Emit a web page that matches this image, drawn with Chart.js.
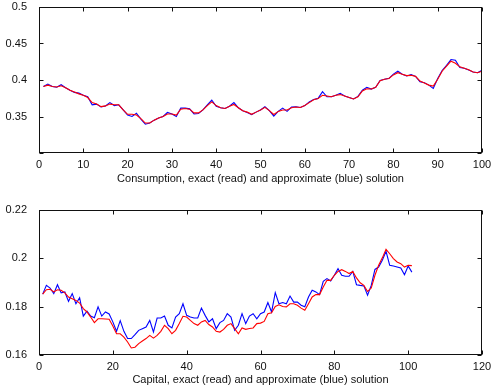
<!DOCTYPE html>
<html>
<head>
<meta charset="utf-8">
<script src="https://cdn.jsdelivr.net/npm/chart.js@4/dist/chart.umd.min.js"></script>
<style>
  html, body { margin: 0; padding: 0; background: #fff; }
  #wrap { position: relative; width: 491px; height: 392px; overflow: hidden; }
  canvas { position: absolute; left: 0; }
</style>
</head>
<body>
<div id="wrap">
  <canvas id="cons" width="491" height="195" style="top:0"></canvas>
  <canvas id="cap" width="491" height="197" style="top:195px"></canvas>
</div>
<script>
// Consumption and capital paths, periods 1..101 — exact (red) vs approximate (blue).

const consExact = [
  0.391, 0.393, 0.391, 0.3905, 0.392, 0.3895, 0.386, 0.3835, 0.381, 0.379,
  0.376, 0.369, 0.367, 0.3635, 0.3645, 0.367, 0.366, 0.366, 0.359, 0.353,
  0.353, 0.352, 0.347, 0.341, 0.341, 0.345, 0.348, 0.350, 0.3535, 0.3535,
  0.352, 0.360, 0.361, 0.360, 0.355, 0.355, 0.359, 0.365, 0.370, 0.365,
  0.362, 0.361, 0.364, 0.3665, 0.362, 0.358, 0.356, 0.353, 0.356, 0.359,
  0.3625, 0.358, 0.3527, 0.357, 0.359, 0.359, 0.362, 0.363, 0.3624, 0.365,
  0.369, 0.373, 0.3745, 0.379, 0.378, 0.377, 0.379, 0.380, 0.378, 0.376,
  0.374, 0.377, 0.385, 0.388, 0.3876, 0.390, 0.399, 0.401, 0.402, 0.407,
  0.410, 0.408, 0.406, 0.4064, 0.405, 0.3985, 0.396, 0.393, 0.3917, 0.401,
  0.412, 0.419, 0.4257, 0.423, 0.418, 0.416, 0.414, 0.411, 0.410, 0.412,
  0.413,
];
const consApprox = [
  0.391, 0.3945, 0.391, 0.390, 0.3935, 0.3895, 0.386, 0.383, 0.382, 0.379,
  0.377, 0.366, 0.367, 0.363, 0.3645, 0.369, 0.365, 0.366, 0.359, 0.352,
  0.350, 0.3545, 0.3465, 0.3395, 0.341, 0.345, 0.348, 0.350, 0.3555, 0.3535,
  0.350, 0.3615, 0.3615, 0.3605, 0.3535, 0.354, 0.359, 0.366, 0.3725, 0.364,
  0.362, 0.361, 0.364, 0.369, 0.362, 0.358, 0.3555, 0.3527, 0.356, 0.359,
  0.3633, 0.358, 0.3505, 0.357, 0.3615, 0.357, 0.3628, 0.3633, 0.3624, 0.365,
  0.370, 0.3734, 0.3748, 0.384, 0.377, 0.377, 0.379, 0.3817, 0.378, 0.376,
  0.374, 0.3775, 0.386, 0.390, 0.3876, 0.390, 0.3995, 0.401, 0.4023, 0.408,
  0.412, 0.408, 0.4055, 0.4073, 0.405, 0.3977, 0.3963, 0.393, 0.3885, 0.402,
  0.413, 0.420, 0.428, 0.427, 0.417, 0.4161, 0.4138, 0.411, 0.410, 0.4133,
  0.413,
];

const capExact = [
  0.1852, 0.187, 0.1872, 0.1861, 0.187, 0.1868, 0.1857, 0.184, 0.1833, 0.1826,
  0.1815, 0.1792, 0.1778, 0.1757, 0.1734, 0.175, 0.175, 0.1749, 0.1748, 0.172,
  0.1688, 0.1688, 0.1674, 0.1654, 0.1629, 0.1632, 0.1647, 0.1658, 0.1668, 0.1681,
  0.167, 0.1681, 0.1698, 0.1723, 0.1709, 0.1688, 0.1702, 0.173, 0.176, 0.1757,
  0.1743, 0.173, 0.1723, 0.1737, 0.1743, 0.1726, 0.1716, 0.1698, 0.1695, 0.1706,
  0.1723, 0.173, 0.1709, 0.1688, 0.1712, 0.1706, 0.171, 0.1712, 0.173, 0.1732,
  0.1739, 0.1771, 0.1775, 0.1801, 0.1808, 0.1801, 0.1799, 0.1812, 0.1812, 0.1806,
  0.1794, 0.1785, 0.1812, 0.184, 0.185, 0.185, 0.1881, 0.1909, 0.1909, 0.193,
  0.1946, 0.1953, 0.1946, 0.1937, 0.1946, 0.1919, 0.1899, 0.1888, 0.1863, 0.1877,
  0.193, 0.1971, 0.2002, 0.2037, 0.2019, 0.1999, 0.1985, 0.1978, 0.1964, 0.1971,
  0.197,
];
const capApprox = [
  0.1852, 0.1888, 0.1877, 0.1854, 0.1891, 0.1857, 0.1861, 0.1822, 0.1854, 0.1812,
  0.1837, 0.1761, 0.1781, 0.1761, 0.1754, 0.1799, 0.1761, 0.1778, 0.177, 0.1737,
  0.1698, 0.1742, 0.1698, 0.1668, 0.1668, 0.1684, 0.1702, 0.1709, 0.1716, 0.1743,
  0.1695, 0.1753, 0.1753, 0.1761, 0.1723, 0.1712, 0.1757, 0.1771, 0.1812, 0.1764,
  0.1757, 0.1753, 0.1753, 0.1794, 0.1764, 0.1737, 0.175, 0.1709, 0.1734, 0.1743,
  0.1771, 0.1757, 0.1702, 0.1723, 0.1771, 0.173, 0.1761, 0.1771, 0.175, 0.1771,
  0.1778, 0.1817, 0.1778, 0.1858, 0.1812, 0.1817, 0.1812, 0.1844, 0.1819, 0.1819,
  0.1806, 0.18, 0.184, 0.1868, 0.1861, 0.185, 0.1905, 0.1916, 0.1906, 0.193,
  0.1957, 0.193, 0.1926, 0.1926, 0.1946, 0.1891, 0.1888, 0.1886, 0.1847, 0.1888,
  0.1954, 0.1964, 0.1992, 0.2029, 0.1971, 0.1968, 0.1964, 0.196, 0.1932, 0.1968,
  0.1943,
];

const FONT = 'Liberation Sans, Arial, Helvetica, sans-serif';
const TICK = 4;

// MATLAB-style box: frame on all four sides, tick marks pointing inward.
const matlabBox = {
  id: 'matlabBox',
  afterDraw(chart) {
    const { ctx, chartArea: a, scales: { x, y } } = chart;
    const L = Math.round(a.left) + 0.5;
    const R = Math.round(a.right) - 0.5;
    const T = Math.round(a.top) + 0.5;
    const B = Math.round(a.bottom) - 0.5;
    ctx.save();
    ctx.strokeStyle = '#111';
    ctx.lineWidth = 1;
    ctx.strokeRect(L, T, R - L, B - T);
    ctx.beginPath();
    for (const t of x.ticks) {
      const px = Math.round(x.getPixelForValue(t.value)) + 0.5;
      ctx.moveTo(px, B); ctx.lineTo(px, B - TICK);
      ctx.moveTo(px, T); ctx.lineTo(px, T + TICK);
    }
    for (const t of y.ticks) {
      const py = Math.round(y.getPixelForValue(t.value)) + 0.5;
      ctx.moveTo(L, py); ctx.lineTo(L + TICK, py);
      ctx.moveTo(R, py); ctx.lineTo(R - TICK, py);
    }
    ctx.stroke();
    ctx.restore();
  },
};

const toPoints = (vals) => vals.map((v, i) => ({ x: i + 1, y: v }));
const fmt = (v) => String(+v.toFixed(3));

function panel(canvas, { exact, approx, xMax, xStep, yMin, yMax, yStep, hideYLabel, title, padTop, xHeight, titlePad }) {
  return new Chart(canvas, {
    type: 'line',
    data: {
      datasets: [
        { data: toPoints(exact), borderColor: '#ff0000', borderWidth: 1.1, pointRadius: 0, tension: 0 },
        { data: toPoints(approx), borderColor: '#0000ff', borderWidth: 1.1, pointRadius: 0, tension: 0 },
      ],
    },
    options: {
      responsive: false,
      animation: false,
      events: [],
      layout: { padding: { top: padTop, right: 9, left: 0, bottom: 0 } },
      plugins: { legend: { display: false }, tooltip: { enabled: false } },
      scales: {
        x: {
          type: 'linear',
          min: 0,
          max: xMax,
          grid: { display: false },
          border: { display: false },
          ticks: { stepSize: xStep, color: '#111', padding: -3, maxRotation: 0, font: { family: FONT, size: 11 } },
          title: { display: true, text: title, color: '#111', padding: { top: 0, bottom: titlePad }, font: { family: FONT, size: 11 } },
          afterFit: (s) => { s.height = xHeight; s.paddingLeft = 0; s.paddingRight = 0; },
        },
        y: {
          min: yMin,
          max: yMax,
          grid: { display: false },
          border: { display: false },
          ticks: {
            stepSize: yStep,
            color: '#111',
            padding: 4,
            font: { family: FONT, size: 11 },
            callback: (v) => (hideYLabel !== undefined && Math.abs(v - hideYLabel) < 1e-9 ? '' : fmt(v)),
          },
          afterFit: (s) => { s.width = 39; s.paddingTop = 0; s.paddingBottom = 0; },
        },
      },
    },
    plugins: [matlabBox],
  });
}

panel(document.getElementById('cons'), {
  exact: consExact, approx: consApprox,
  xMax: 100, xStep: 10, yMin: 0.3, yMax: 0.5, yStep: 0.05, hideYLabel: 0.3,
  title: 'Consumption, exact (read) and approximate (blue) solution',
  padTop: 7, xHeight: 42, titlePad: 9,
});

panel(document.getElementById('cap'), {
  exact: capExact, approx: capApprox,
  xMax: 120, xStep: 20, yMin: 0.16, yMax: 0.22, yStep: 0.02,
  title: 'Capital, exact (read) and approximate (blue) solution',
  padTop: 15, xHeight: 37, titlePad: 5,
});
</script>
</body>
</html>
